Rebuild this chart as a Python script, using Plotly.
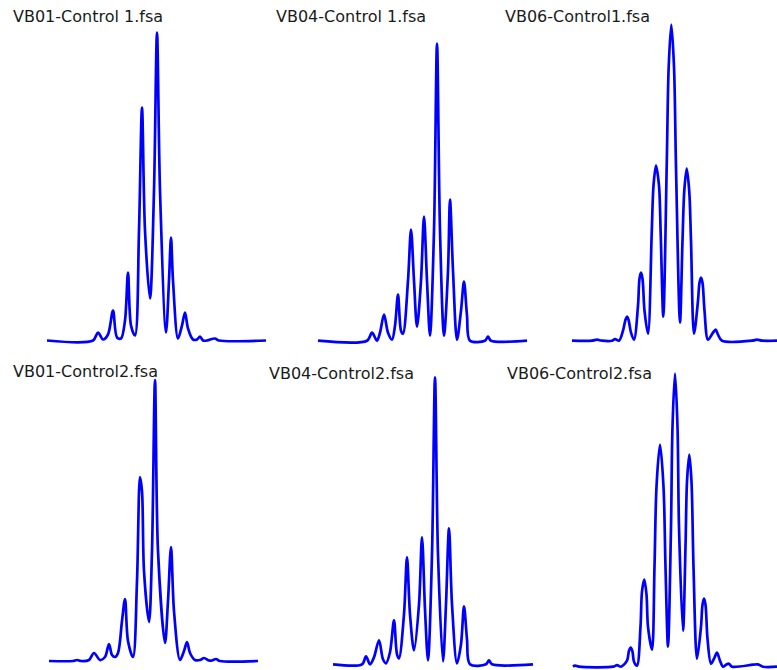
import plotly.graph_objects as go

FIG_W, FIG_H = 777, 670

# Capillary electrophoresis traces (scan offset, signal) for each sample file
titles = [
    "VB01-Control 1.fsa", "VB04-Control 1.fsa", "VB06-Control1.fsa",
    "VB01-Control2.fsa", "VB04-Control2.fsa", "VB06-Control2.fsa",
]

scan_vb01_c1 = [0, 46, 51, 56, 61, 66, 70, 74, 78, 81, 84, 88, 92, 95, 98, 103, 107, 110, 113,
                119, 122, 124, 126, 131, 135, 138, 141, 146, 150, 153, 156, 160, 163, 168, 172, 219]
signal_vb01_c1 = [0, 0, 8, 1, 6, 30, 3, 2, 20, 68, 15, 5, 110, 233, 110, 42, 150, 308, 150,
                  8, 60, 103, 60, 2, 15, 28, 12, 1, 1, 4, 0, 0, 1, 2, 0, 0]

scan_vb04_c1 = [0, 49, 54, 59, 62, 66, 70, 74, 77, 80, 83, 85, 90, 93, 96, 99, 103, 106, 109,
                112, 116, 119, 122, 126, 130, 132, 135, 139, 143, 146, 149, 152, 167, 170, 173, 209]
signal_vb04_c1 = [0, 0, 8, 0, 8, 26, 8, 1, 15, 46, 10, 7, 60, 111, 60, 14, 60, 124, 60,
                  5, 110, 297, 110, 5, 70, 141, 70, 1, 30, 59, 25, 0, 0, 4, 0, 0]

scan_vb06_c1 = [0, 20, 25, 30, 40, 43, 47,
                51, 53.5, 55, 56.5, 59,
                62, 66, 67.5, 69, 70.5, 72.5,
                76, 79.7, 81.5, 84, 87, 88.7,
                91.3, 94.7, 96.7, 99.3, 102, 104,
                108, 110.5, 112.3, 114.7, 117.2, 119,
                122, 126, 127.5, 129, 130.5, 132.5,
                136, 141, 143.7, 146, 150,
                180, 185, 190, 205]
signal_vb06_c1 = [0, 0, 1, 0, 0, 1.5, 0,
                  10, 21, 24, 21, 8,
                  1, 35, 62, 68, 62, 30,
                  7, 107, 155, 175, 155, 107,
                  24, 174, 274, 316, 274, 174,
                  18, 100, 150, 172, 150, 100,
                  7, 40, 58, 63, 58, 30,
                  1, 8, 11, 6, 0,
                  0, 1, 0, 0]

scan_vb01_c2 = [0, 24, 28, 32, 40, 45, 51, 56, 60, 63, 66, 69, 73, 76, 79, 84, 88, 91, 93, 95,
                100, 103, 106, 109, 116, 119, 122, 125, 131, 135, 138, 141, 146, 151, 155,
                160, 163, 167, 171, 209]
signal_vb01_c2 = [0, 0, 1, 0, 1, 8, 1, 4, 17, 6, 4, 8, 40, 62, 20, 4, 80, 184, 170, 90,
                  39, 110, 281, 110, 18, 60, 114, 50, 1, 10, 19, 8, 1, 1, 3,
                  0.5, 0.5, 2, 0, 0]

scan_vb04_c2 = [0, 29, 33, 37, 41, 46, 50, 53, 57, 61, 64, 66, 71, 74, 77, 81, 86, 89, 92,
                95, 99, 102, 105, 110, 113, 116, 119, 124, 128, 131, 134, 137, 153, 156, 159, 200]
signal_vb04_c2 = [0, 0, 8, 0, 7, 24, 5, 1, 12, 44, 10, 6, 50, 107, 50, 14, 60, 127, 55,
                  4, 110, 287, 110, 3, 60, 136, 60, 1, 20, 58, 25, 0, 0, 4, 0, 0]

scan_vb06_c2 = [0, 2, 6, 40, 44, 48,
                54, 56, 57.7, 59.5, 61,
                64, 67.5, 69, 71.3, 73.5, 75,
                79, 81.5, 83.5, 87, 90.5, 92.5,
                95, 98, 99.5, 102, 104.5, 106,
                110, 112.5, 114, 116.3, 118.5, 120.5,
                124, 128, 129.5, 131, 132.5, 134.5,
                138, 141, 144, 147, 150, 153, 156, 159,
                180, 185, 190, 204]
signal_vb06_c2 = [0, 1, 0, 0, 1.5, 0,
                  6, 16, 19, 15, 5,
                  1, 40, 75, 87, 72, 40,
                  17, 100, 180, 222, 180, 100,
                  20, 140, 240, 293, 240, 140,
                  36, 120, 185, 212, 185, 100,
                  8, 40, 62, 68, 62, 28,
                  3, 8, 14, 6, 0, 2, 3, 0,
                  2, 2.3, 0, 0]

traces = [
    (scan_vb01_c1, signal_vb01_c1), (scan_vb04_c1, signal_vb04_c1), (scan_vb06_c1, signal_vb06_c1),
    (scan_vb01_c2, signal_vb01_c2), (scan_vb04_c2, signal_vb04_c2), (scan_vb06_c2, signal_vb06_c2),
]

# Panel placement in pixels: left edge of the trace and baseline row
placement = [(47, 340.5), (318, 340.7), (572, 340.7), (49, 661.0), (333, 664.3), (573, 666.7)]
title_pos = [(11, 16.0), (274, 16.0), (503, 17.0), (11, 371.0), (267, 373.0), (505, 373.0)]

fig = go.Figure()
pad = 4
for i, ((scan, signal), (x0, base)) in enumerate(zip(traces, placement)):
    sfx = "" if i == 0 else str(i + 1)
    width = max(scan)
    top = max(signal)
    left_px = max(0, x0 - pad)
    right_px = min(FIG_W, x0 + width + pad)
    bottom_px = min(FIG_H, base + pad)
    top_px = max(0, base - top - pad)
    fig.add_trace(go.Scatter(
        x=scan, y=signal, mode="lines",
        line=dict(color="#0000FF", width=2.7, shape="spline", smoothing=0.9),
        xaxis="x" + sfx, yaxis="y" + sfx, hoverinfo="skip", showlegend=False,
    ))
    fig.layout["xaxis" + sfx] = dict(
        domain=[left_px / FIG_W, right_px / FIG_W],
        range=[left_px - x0, right_px - x0],
        visible=False, anchor="y" + sfx, fixedrange=True,
    )
    fig.layout["yaxis" + sfx] = dict(
        domain=[(FIG_H - bottom_px) / FIG_H, (FIG_H - top_px) / FIG_H],
        range=[base - bottom_px, base - top_px],
        visible=False, anchor="x" + sfx, fixedrange=True,
    )

for text, (tx, ty) in zip(titles, title_pos):
    fig.add_annotation(
        text=text, xref="paper", yref="paper",
        x=tx / FIG_W, y=1 - ty / FIG_H, xanchor="left", yanchor="middle",
        showarrow=False, font=dict(family="DejaVu Sans", size=16, color="#1a1a1a"),
    )

fig.update_layout(
    width=FIG_W, height=FIG_H,
    margin=dict(l=0, r=0, t=0, b=0),
    paper_bgcolor="white", plot_bgcolor="white",
)

fig.write_html("out.html")
